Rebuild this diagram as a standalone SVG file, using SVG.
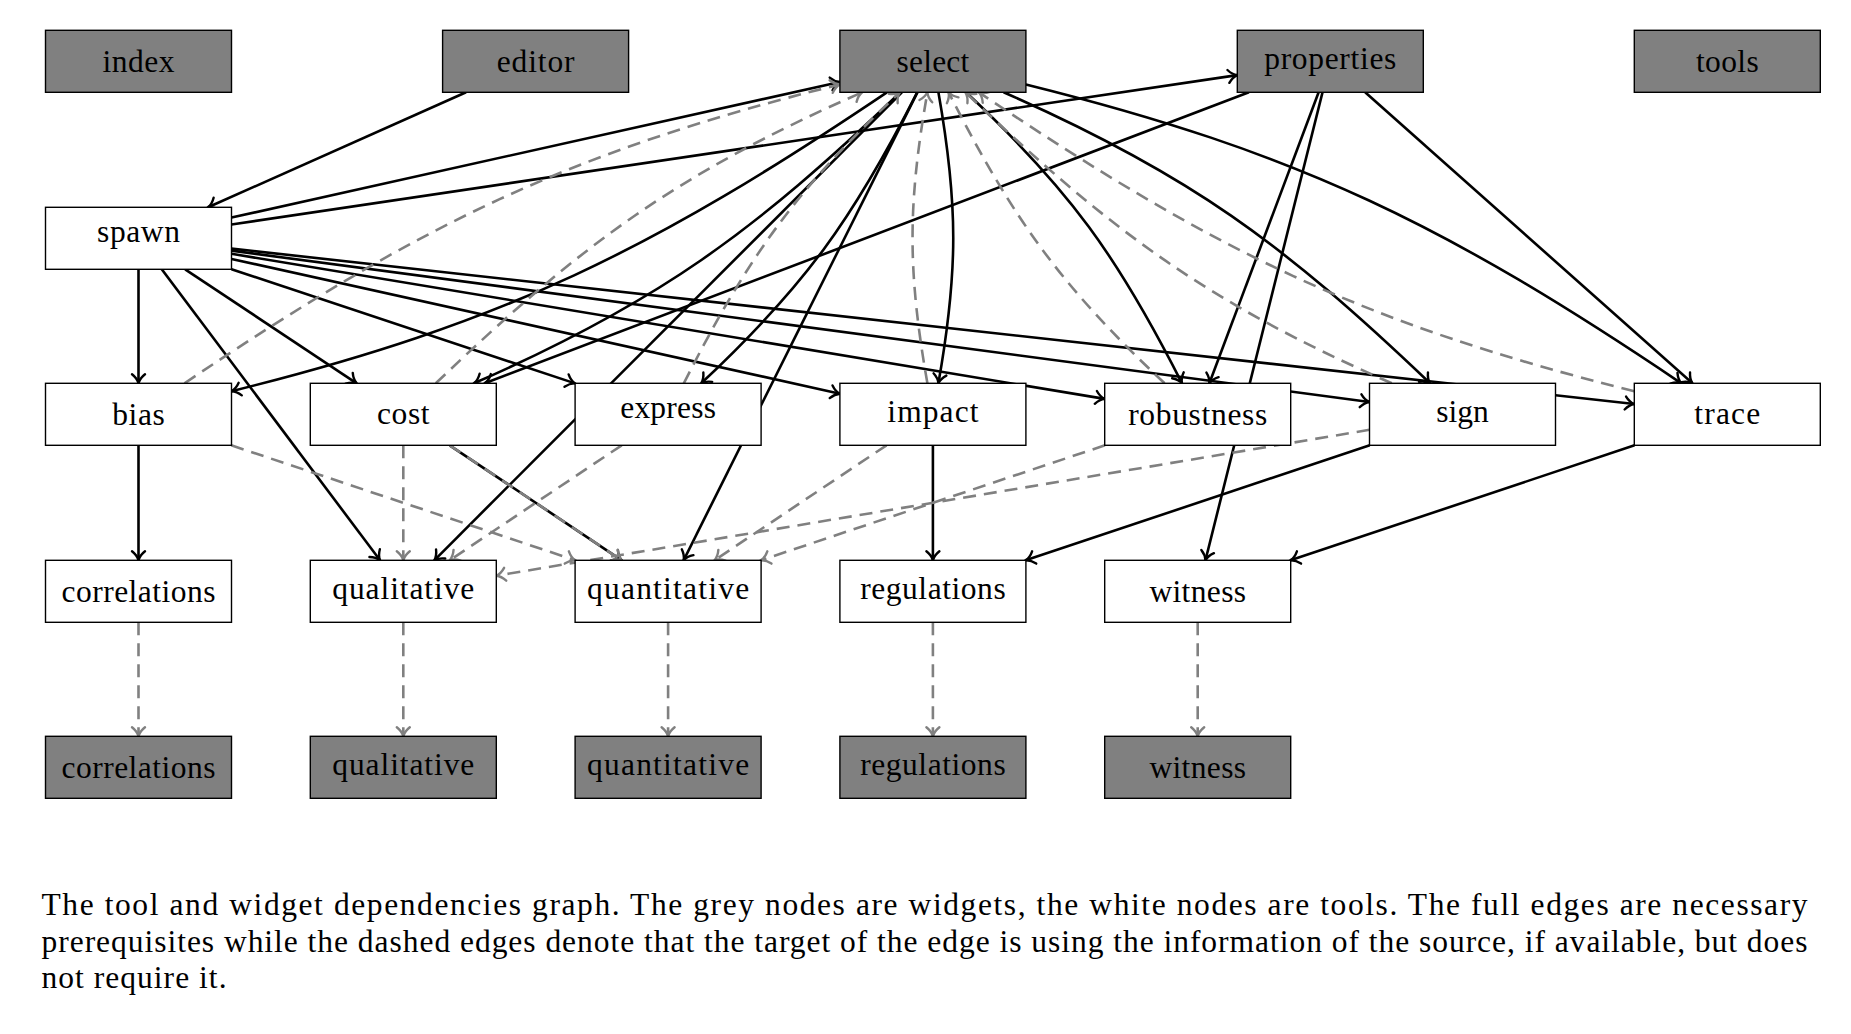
<svg xmlns="http://www.w3.org/2000/svg" width="1851" height="1034" viewBox="0 0 1851 1034">
<style>
.bg{fill:#fff}
.nd rect{stroke:#000;stroke-width:1.4}
.w rect{fill:#808080}
.t rect{fill:#fff}
.nd text{font-family:"Liberation Serif","Times New Roman",serif;font-size:31.5px;fill:#000;text-anchor:middle}
.s{fill:none;stroke:#000;stroke-width:2.6;marker-end:url(#ah)}
.d{fill:none;stroke:#808080;stroke-width:2.6;stroke-dasharray:13 8;marker-end:url(#ag)}
.cap{font-family:"Liberation Serif","Times New Roman",serif;font-size:31.5px;fill:#000}
</style>
<defs>
<marker id="ah" markerUnits="userSpaceOnUse" markerWidth="16" markerHeight="18" viewBox="-12 -9 16 18" refX="0" refY="0" orient="auto" overflow="visible">
<path d="M-9,-6.5 C-5.8,-2.4 -2.6,-0.7 0,0 C-2.6,0.7 -5.8,2.4 -9,6.5" fill="none" stroke="#000" stroke-width="2.4" stroke-linecap="round"/>
</marker>
<marker id="ag" markerUnits="userSpaceOnUse" markerWidth="16" markerHeight="18" viewBox="-12 -9 16 18" refX="0" refY="0" orient="auto" overflow="visible">
<path d="M-9,-6.5 C-5.8,-2.4 -2.6,-0.7 0,0 C-2.6,0.7 -5.8,2.4 -9,6.5" fill="none" stroke="#808080" stroke-width="2.4" stroke-dasharray="none" stroke-linecap="round"/>
</marker>
</defs>
<rect class="bg" x="0" y="0" width="1851" height="1034"/>

<g id="edges">
<path class="s" d="M466.05,92.3 L208.05,207.3"/>
<path class="s" d="M231.5,217.58 L839.9,82.02"/>
<path class="s" d="M231.5,224.49 L1237.3,75.11"/>
<path class="s" d="M138.5,269.3 L138.5,383.3"/>
<path class="s" d="M161.75,269.3 L380.05,560.3"/>
<path class="s" d="M185.14,269.3 L356.66,383.3"/>
<path class="s" d="M231.5,269.21 L575.1,383.39"/>
<path class="s" d="M231.5,258.9 L839.9,393.7"/>
<path class="s" d="M231.5,253.75 L1104.7,398.85"/>
<path class="s" d="M231.5,250.66 L1369.5,401.94"/>
<path class="s" d="M231.5,248.6 L1634.3,404.0"/>
<path class="s" d="M1248.89,92.3 L484.71,383.3"/>
<path class="s" d="M1318.65,92.3 L1209.35,383.3"/>
<path class="s" d="M1322.54,92.3 L1205.46,560.3"/>
<path class="s" d="M1365.16,92.3 L1692.44,383.3"/>
<path class="s" d="M901.92,92.3 L434.28,560.3"/>
<path class="s" d="M917.41,92.3 L683.59,560.3"/>
<path class="s" d="M138.5,445.3 L138.5,560.3"/>
<path class="s" d="M932.9,445.3 L932.9,560.3"/>
<path class="s" d="M449.68,445.3 L621.72,560.3"/>
<path class="s" d="M1369.75,445.3 L1025.65,560.3"/>
<path class="s" d="M1634.55,445.3 L1290.45,560.3"/>
<path class="s" d="M886.9,92.3 C653.0,249.8 505.2,323.2 231.5,391.2"/>
<path class="s" d="M900.4,92.3 C754.2,231.9 659.1,302.1 474.0,383.3"/>
<path class="s" d="M917.2,92.3 C853.0,218.9 804.8,286.3 701.2,383.3"/>
<path class="s" d="M938.4,92.3 C958.2,204.5 958.2,271.1 938.4,383.3"/>
<path class="s" d="M966.0,92.3 C1069.6,189.3 1117.8,256.7 1182.0,383.3"/>
<path class="s" d="M1003.6,92.3 C1188.7,173.5 1283.8,243.7 1430.0,383.3"/>
<path class="s" d="M1025.9,84.4 C1299.6,152.4 1447.4,225.8 1681.3,383.3"/>
<path class="d" d="M184.5,383.3 C418.4,225.8 566.2,152.4 839.9,84.4"/>
<path class="d" d="M435.8,383.3 C582.0,243.7 677.1,173.5 862.2,92.3"/>
<path class="d" d="M683.8,383.3 C748.0,256.7 796.2,189.3 899.8,92.3"/>
<path class="d" d="M927.4,383.3 C907.6,271.1 907.6,204.5 927.4,92.3"/>
<path class="d" d="M1164.6,383.3 C1061.0,286.3 1012.8,218.9 948.6,92.3"/>
<path class="d" d="M1391.8,383.3 C1206.7,302.1 1111.6,231.9 965.4,92.3"/>
<path class="d" d="M1634.3,391.2 C1360.6,323.2 1212.8,249.8 978.9,92.3"/>
<path class="d" d="M403.3,445.3 L403.3,560.3"/>
<path class="d" d="M231.25,445.3 L575.35,560.3"/>
<path class="d" d="M621.72,445.3 L449.68,560.3"/>
<path class="d" d="M886.52,445.3 L714.48,560.3"/>
<path class="d" d="M1104.95,445.3 L760.85,560.3"/>
<path class="d" d="M1369.5,429.84 L496.3,575.76"/>
<path class="d" d="M449.68,445.3 L621.72,560.3"/>
<path class="d" d="M138.5,622.3 L138.5,736.3"/>
<path class="d" d="M403.3,622.3 L403.3,736.3"/>
<path class="d" d="M668.1,622.3 L668.1,736.3"/>
<path class="d" d="M932.9,622.3 L932.9,736.3"/>
<path class="d" d="M1197.7,622.3 L1197.7,736.3"/>
</g>

<g id="n-index" class="nd w"><rect x="45.5" y="30.3" width="186" height="62"/><text x="138.5" y="71.8" textLength="71.8" lengthAdjust="spacing">index</text></g>
<g id="n-editor" class="nd w"><rect x="442.6" y="30.3" width="186" height="62"/><text x="535.6" y="71.8" textLength="77.8" lengthAdjust="spacing">editor</text></g>
<g id="n-select" class="nd w"><rect x="839.9" y="30.3" width="186" height="62"/><text x="932.9" y="71.8" textLength="72.7" lengthAdjust="spacing">select</text></g>
<g id="n-properties" class="nd w"><rect x="1237.3" y="30.3" width="186" height="62"/><text x="1330.3" y="68.5" textLength="132.1" lengthAdjust="spacing">properties</text></g>
<g id="n-tools" class="nd w"><rect x="1634.3" y="30.3" width="186" height="62"/><text x="1727.3" y="71.8" textLength="62.7" lengthAdjust="spacing">tools</text></g>

<g id="n-spawn" class="nd t"><rect x="45.5" y="207.3" width="186" height="62"/><text x="138.5" y="241.9" textLength="82.9" lengthAdjust="spacing">spawn</text></g>

<g id="n-bias" class="nd t"><rect x="45.5" y="383.3" width="186" height="62"/><text x="138.5" y="424.8" textLength="52.5" lengthAdjust="spacing">bias</text></g>
<g id="n-cost" class="nd t"><rect x="310.3" y="383.3" width="186" height="62"/><text x="403.3" y="423.6" textLength="52.5" lengthAdjust="spacing">cost</text></g>
<g id="n-express" class="nd t"><rect x="575.1" y="383.3" width="186" height="62"/><text x="668.1" y="417.9" textLength="95.8" lengthAdjust="spacing">express</text></g>
<g id="n-impact" class="nd t"><rect x="839.9" y="383.3" width="186" height="62"/><text x="932.9" y="421.5" textLength="91.2" lengthAdjust="spacing">impact</text></g>
<g id="n-robustness" class="nd t"><rect x="1104.7" y="383.3" width="186" height="62"/><text x="1197.7" y="424.8" textLength="139.1" lengthAdjust="spacing">robustness</text></g>
<g id="n-sign" class="nd t"><rect x="1369.5" y="383.3" width="186" height="62"/><text x="1462.5" y="421.5" textLength="52.5" lengthAdjust="spacing">sign</text></g>
<g id="n-trace" class="nd t"><rect x="1634.3" y="383.3" width="186" height="62"/><text x="1727.3" y="423.6" textLength="65.9" lengthAdjust="spacing">trace</text></g>

<g id="n-correlations" class="nd t"><rect x="45.5" y="560.3" width="186" height="62"/><text x="138.5" y="601.8" textLength="154" lengthAdjust="spacing">correlations</text></g>
<g id="n-qualitative" class="nd t"><rect x="310.3" y="560.3" width="186" height="62"/><text x="403.3" y="598.9" textLength="141.9" lengthAdjust="spacing">qualitative</text></g>
<g id="n-quantitative" class="nd t"><rect x="575.1" y="560.3" width="186" height="62"/><text x="668.1" y="598.5" textLength="162.2" lengthAdjust="spacing">quantitative</text></g>
<g id="n-regulations" class="nd t"><rect x="839.9" y="560.3" width="186" height="62"/><text x="932.9" y="598.9" textLength="145.5" lengthAdjust="spacing">regulations</text></g>
<g id="n-witness" class="nd t"><rect x="1104.7" y="560.3" width="186" height="62"/><text x="1197.7" y="601.5" textLength="96.6" lengthAdjust="spacing">witness</text></g>

<g id="n-w-correlations" class="nd w"><rect x="45.5" y="736.3" width="186" height="62"/><text x="138.5" y="777.8" textLength="154" lengthAdjust="spacing">correlations</text></g>
<g id="n-w-qualitative" class="nd w"><rect x="310.3" y="736.3" width="186" height="62"/><text x="403.3" y="774.9" textLength="141.9" lengthAdjust="spacing">qualitative</text></g>
<g id="n-w-quantitative" class="nd w"><rect x="575.1" y="736.3" width="186" height="62"/><text x="668.1" y="774.5" textLength="162.2" lengthAdjust="spacing">quantitative</text></g>
<g id="n-w-regulations" class="nd w"><rect x="839.9" y="736.3" width="186" height="62"/><text x="932.9" y="774.9" textLength="145.5" lengthAdjust="spacing">regulations</text></g>
<g id="n-w-witness" class="nd w"><rect x="1104.7" y="736.3" width="186" height="62"/><text x="1197.7" y="777.5" textLength="96.6" lengthAdjust="spacing">witness</text></g>

<g id="caption">
<text class="cap" x="41.5" y="915" textLength="1766" lengthAdjust="spacing">The tool and widget dependencies graph.  The grey nodes are widgets, the white nodes are tools.  The full edges are necessary</text>
<text class="cap" x="41.5" y="951.7" textLength="1766" lengthAdjust="spacing">prerequisites while the dashed edges denote that the target of the edge is using the information of the source, if available, but does</text>
<text class="cap" x="41.5" y="988.3" textLength="185" lengthAdjust="spacing">not require it.</text>
</g>
</svg>
